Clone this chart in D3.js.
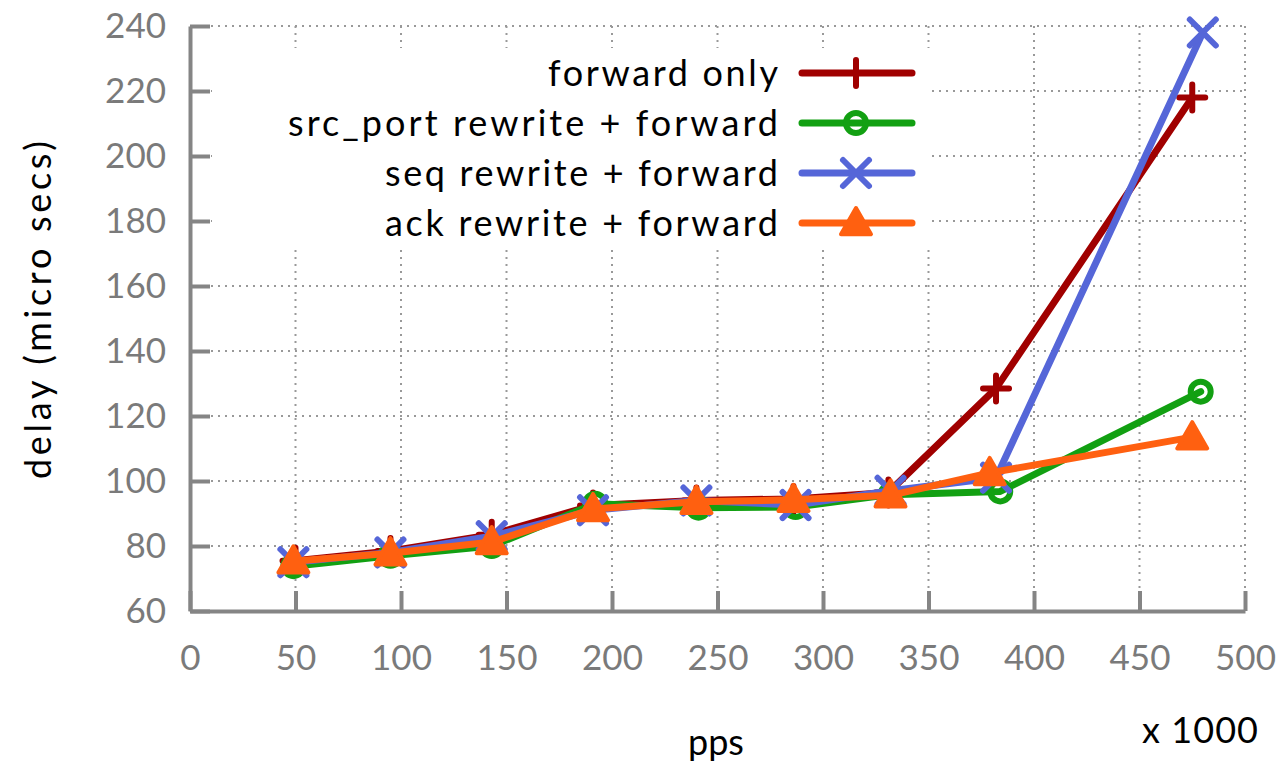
<!DOCTYPE html>
<html>
<head>
<meta charset="utf-8">
<script src="https://cdn.jsdelivr.net/npm/d3@7"></script>
<style>
  body { margin: 0; background: #fff; }
  svg { display: block; }
  text { font-family: Lato, "Open Sans", sans-serif; }
</style>
</head>
<body>
<svg id="chart" width="1281" height="762"></svg>
<script>
// 데이터
const seriesNames = ['forward only', 'src_port rewrite + forward', 'seq rewrite + forward', 'ack rewrite + forward'];
const seriesColors = ['#a00000', '#12a012', '#5566d8', '#ff6010'];
const seriesMarkers = ['plus', 'circle', 'cross', 'triangle'];

const ppsForward = [50, 95, 143, 191, 240, 286, 331, 382, 475];
const delayForward = [75.5, 78.5, 83.5, 92.5, 94, 94.5, 96.5, 128.5, 218];

const ppsSrcPort = [49, 95, 143, 192, 241, 287, 332, 384, 479];
const delaySrcPort = [73.8, 77, 80, 93, 91.8, 92, 95.8, 96.8, 127.5];

const ppsSeq = [49, 95, 143, 191, 240, 287, 332, 382, 480];
const delaySeq = [75, 78, 83, 91, 94, 92.6, 97, 101, 238];

const ppsAck = [49, 95, 143, 191, 240, 286, 332, 379, 475];
const delayAck = [75.3, 77.8, 81.2, 91.4, 93.6, 94.2, 95.6, 102.5, 113.5];

const xTicks = [0, 50, 100, 150, 200, 250, 300, 350, 400, 450, 500];
const yTicks = [60, 80, 100, 120, 140, 160, 180, 200, 220, 240];

const seriesX = [ppsForward, ppsSrcPort, ppsSeq, ppsAck];
const seriesY = [delayForward, delaySrcPort, delaySeq, delayAck];

// 레이아웃
const margin = { left: 190, top: 26 };
const width = 1055, height = 585;
const axisGrey = '#858585';

const svg = d3.select('#chart');
const g = svg.append('g').attr('transform', `translate(${margin.left},${margin.top})`);

const x = d3.scaleLinear().domain([0, 500]).range([0, width]);
const y = d3.scaleLinear().domain([60, 240]).range([height, 0]);

// 점선 격자
const grid = g.append('g').attr('class', 'grid')
  .attr('stroke', '#999').attr('stroke-width', 2).attr('stroke-dasharray', '2,5');
grid.selectAll('.h').data(yTicks.slice(1)).join('line')
  .attr('x1', 0).attr('x2', width)
  .attr('y1', d => y(d)).attr('y2', d => y(d));
grid.selectAll('.v').data(xTicks.slice(1)).join('line')
  .attr('y1', 0).attr('y2', height)
  .attr('x1', d => x(d)).attr('x2', d => x(d));

// 범례 배경 (격자 가리기)
g.append('rect')
  .attr('x', 22).attr('y', 22).attr('width', 718).attr('height', 198)
  .attr('fill', '#fff');

// 축
const yAxis = g.append('g')
  .call(d3.axisLeft(y).tickValues(yTicks).tickSizeInner(-20).tickSizeOuter(0).tickPadding(24));
const xAxis = g.append('g').attr('transform', `translate(0,${height})`)
  .call(d3.axisBottom(x).tickValues(xTicks).tickSizeInner(-20).tickSizeOuter(0).tickPadding(34));

[yAxis, xAxis].forEach(ax => {
  ax.select('.domain').attr('stroke', axisGrey).attr('stroke-width', 4);
  ax.selectAll('.tick line').attr('stroke', axisGrey).attr('stroke-width', 4);
  ax.selectAll('.tick text')
    .attr('fill', '#7a7a7a').style('font-size', '35px').style('font-family', 'Lato, sans-serif');
});
xAxis.selectAll('.tick text').attr('dy', '0.71em');

// 마커 그리기
function drawMarker(sel, type, color, cx, cy) {
  const s = 13;
  if (type === 'plus') {
    sel.append('path').attr('d', `M${cx - s},${cy}H${cx + s}M${cx},${cy - s}V${cy + s}`)
      .attr('stroke', color).attr('stroke-width', 6).attr('stroke-linecap', 'round');
  } else if (type === 'circle') {
    sel.append('circle').attr('cx', cx).attr('cy', cy).attr('r', 10)
      .attr('fill', 'none').attr('stroke', color).attr('stroke-width', 6);
  } else if (type === 'cross') {
    sel.append('path')
      .attr('d', `M${cx - s},${cy - s}L${cx + s},${cy + s}M${cx - s},${cy + s}L${cx + s},${cy - s}`)
      .attr('stroke', color).attr('stroke-width', 6).attr('stroke-linecap', 'round');
  } else if (type === 'triangle') {
    const h = 15;
    sel.append('path')
      .attr('d', `M${cx},${cy - h}L${cx + h},${cy + h * 0.75}L${cx - h},${cy + h * 0.75}Z`)
      .attr('fill', color).attr('stroke', color).attr('stroke-width', 4).attr('stroke-linejoin', 'round');
  }
}

// 시리즈
const line = d3.line().x(d => x(d[0])).y(d => y(d[1]));
seriesNames.forEach((name, i) => {
  const pts = seriesX[i].map((v, j) => [v, seriesY[i][j]]);
  const sg = g.append('g');
  sg.append('path').datum(pts).attr('d', line)
    .attr('fill', 'none').attr('stroke', seriesColors[i]).attr('stroke-width', 7)
    .attr('stroke-linejoin', 'round').attr('stroke-linecap', 'round');
  pts.forEach(p => drawMarker(sg, seriesMarkers[i], seriesColors[i], x(p[0]), y(p[1])));
});

// 범례 (원본 글꼴이 더 넓어서 textLength로 폭을 맞춤)
const legendRows = [47, 97, 147, 197];
const legendWidths = [230, 490, 393, 393];
seriesNames.forEach((name, i) => {
  const lg = g.append('g').attr('transform', `translate(0,${legendRows[i]})`);
  lg.append('text').attr('x', 588).attr('y', 0).attr('dy', '0.35em')
    .attr('text-anchor', 'end').attr('fill', '#000').style('font-size', '36px')
    .attr('textLength', legendWidths[i]).attr('lengthAdjust', 'spacing')
    .text(name);
  lg.append('line').attr('x1', 612).attr('x2', 722).attr('y1', 0).attr('y2', 0)
    .attr('stroke', seriesColors[i]).attr('stroke-width', 7).attr('stroke-linecap', 'round');
  drawMarker(lg, seriesMarkers[i], seriesColors[i], 666, 0);
});

// 축 제목
svg.append('text')
  .attr('transform', 'translate(38,310) rotate(-90)')
  .attr('text-anchor', 'middle').attr('dy', '0.35em')
  .style('font-size', '36px').attr('fill', '#000')
  .attr('textLength', 338).attr('lengthAdjust', 'spacing')
  .text('delay (micro secs)');
svg.append('text')
  .attr('x', 716).attr('y', 742).attr('dy', '0.35em')
  .attr('text-anchor', 'middle').style('font-size', '36px').attr('fill', '#000')
  .text('pps');
svg.append('text')
  .attr('x', 1258).attr('y', 730).attr('dy', '0.35em')
  .attr('text-anchor', 'end').style('font-size', '36px').attr('fill', '#000')
  .attr('textLength', 116).attr('lengthAdjust', 'spacing')
  .text('x 1000');
</script>
</body>
</html>
